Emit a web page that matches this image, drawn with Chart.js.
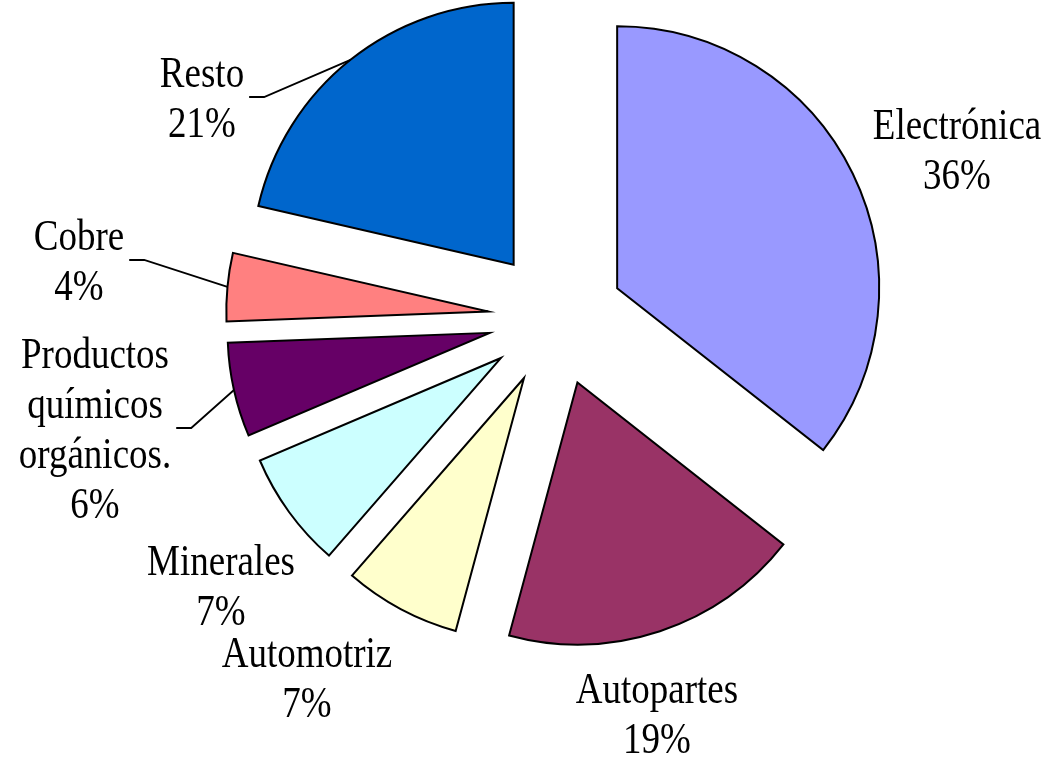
<!DOCTYPE html>
<html>
<head>
<meta charset="utf-8">
<script src="https://cdn.jsdelivr.net/npm/chart.js"></script>
<style>
  html, body { margin: 0; padding: 0; background: #fff; }
  #wrap { width: 1049px; height: 760px; }
</style>
</head>
<body>
<div id="wrap"><canvas id="pieChart" width="1049" height="760"></canvas></div>
<script>
// Categories (clockwise from 12 o'clock) and their shares in %
var categories = ['Electrónica', 'Autopartes', 'Automotriz', 'Minerales', ['Productos', 'químicos', 'orgánicos.'], 'Cobre', 'Resto'];
var shares = [35.6, 18.6, 7.2, 7.2, 5.8, 4.2, 21.4];   // labels round them
var sliceColors = ['#9999FF', '#993366', '#FFFFCC', '#CCFFFF', '#660066', '#FF8080', '#0066CC'];

// label placement (x centre, first baseline) and which ones get a leader line
var labelAt = [[957, 139], [657, 703], [307, 667], [221, 575], [95, 368], [79, 250], [202, 87]];
var hasLeader = [false, false, false, false, true, true, true];

var EXPLODE = 68;      // distance every slice is pulled out
var FONT_PX = 37;
var STRETCH = 1.2;     // text in the original is drawn taller than wide
var LINE_GAP = 50;

var total = shares.reduce(function(a, b) { return a + b; }, 0);

// draw slices ourselves so each one is moved out along its bisector
var explodePlugin = {
    id: 'explode',
    beforeDatasetDraw: function(chart, args) {
        var ctx = chart.ctx;
        var arcs = chart.getDatasetMeta(args.index).data;
        arcs.forEach(function(arc) {
            var mid = (arc.startAngle + arc.endAngle) / 2;
            ctx.save();
            ctx.translate(Math.cos(mid) * EXPLODE, Math.sin(mid) * EXPLODE);
            arc.draw(ctx);
            ctx.restore();
        });
        return false;
    }
};

var labelPlugin = {
    id: 'outLabels',
    afterDatasetsDraw: function(chart) {
        var ctx = chart.ctx;
        var arcs = chart.getDatasetMeta(0).data;
        ctx.save();
        ctx.font = FONT_PX + 'px "Liberation Serif", "Times New Roman", serif';
        ctx.fillStyle = '#000';
        ctx.textAlign = 'center';
        ctx.textBaseline = 'alphabetic';
        arcs.forEach(function(arc, i) {
            var name = categories[i];
            var pct = Math.round(shares[i] / total * 100) + '%';
            var lines = (Array.isArray(name) ? name : [name]).concat([pct]);
            var x = labelAt[i][0], y0 = labelAt[i][1];
            var maxW = 0;
            lines.forEach(function(t, k) {
                maxW = Math.max(maxW, ctx.measureText(t).width);
                ctx.save();
                ctx.translate(x, y0 + k * LINE_GAP);
                ctx.scale(1, STRETCH);
                ctx.fillText(t, 0, 0);
                ctx.restore();
            });
            if (hasLeader[i]) {
                var mid = (arc.startAngle + arc.endAngle) / 2;
                var r = arc.outerRadius + EXPLODE;
                var ex = arc.x + Math.cos(mid) * r;
                var ey = arc.y + Math.sin(mid) * r;
                var ly = y0 + (lines.length - 1) * LINE_GAP / 2 - 15;
                var lx = x + maxW / 2 + 5;
                ctx.beginPath();
                ctx.lineWidth = 1.8;
                ctx.strokeStyle = '#000';
                ctx.moveTo(lx, ly);
                ctx.lineTo(lx + 15, ly);
                ctx.lineTo(ex, ey);
                ctx.stroke();
            }
        });
        ctx.restore();
    }
};

var ctx = document.getElementById('pieChart');
new Chart(ctx, {
    type: 'pie',
    data: {
        labels: categories,
        datasets: [{
            data: shares,
            backgroundColor: sliceColors,
            borderColor: '#000000',
            borderWidth: 2,
            borderJoinStyle: 'miter',
            offset: 0
        }]
    },
    options: {
        responsive: false,
        animation: false,
        devicePixelRatio: 1,
        radius: 262,
        layout: { padding: { left: 100, right: 37, top: 0, bottom: 124 } },
        plugins: {
            legend: { display: false },
            tooltip: { enabled: false }
        }
    },
    plugins: [explodePlugin, labelPlugin]
});
</script>
</body>
</html>
